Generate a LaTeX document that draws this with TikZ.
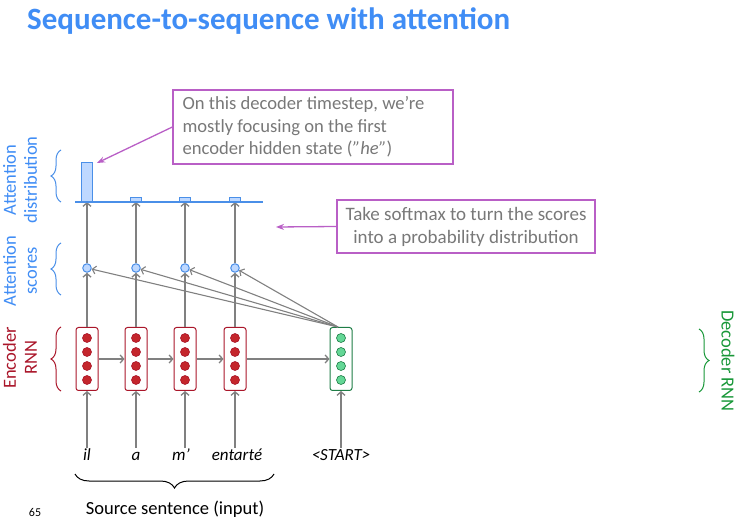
\documentclass[tikz,border=0pt]{standalone}
\usepackage{fontspec}
\setmainfont{Carlito}
\usetikzlibrary{arrows.meta,decorations.pathreplacing}
\definecolor{titleblue}{RGB}{64,141,245}
\definecolor{encred}{RGB}{170,22,42}
\definecolor{encfill}{RGB}{196,38,44}
\definecolor{decgreen}{RGB}{30,125,70}
\definecolor{decfill}{RGB}{100,215,150}
\definecolor{scoreblue}{RGB}{74,143,232}
\definecolor{scorefill}{RGB}{190,216,255}
\definecolor{notepurple}{RGB}{185,95,198}
\definecolor{notegray}{RGB}{120,120,120}
\definecolor{arrowgray}{RGB}{128,128,128}
\tikzset{
  conn/.style={draw=arrowgray, line width=1.3pt, -{Straight Barb[length=3.5pt,width=8pt]}},
  fan/.style={conn, line width=1.1pt},
  encbox/.style={draw=encred, fill=white, line width=1pt, rounded corners=2.5pt,
    minimum width=22pt, minimum height=63pt, inner sep=0pt},
  decbox/.style={encbox, draw=decgreen},
  enccirc/.style={circle, draw=encred, fill=encfill, line width=0.6pt, minimum size=9pt, inner sep=0pt},
  deccirc/.style={enccirc, draw=decgreen, fill=decfill},
  score/.style={circle, draw=scoreblue, fill=scorefill, line width=1pt, minimum size=8.5pt, inner sep=0pt},
  bar/.style={draw=scoreblue, fill=scorefill, line width=1pt, minimum width=11pt, inner sep=0pt, anchor=south},
  word/.style={font=\fontsize{17}{20}\selectfont\itshape, text height=12pt, text depth=4pt, inner sep=0pt},
  note/.style={draw=notepurple, line width=1.3pt, text=notegray},
  pointer/.style={draw=notepurple, line width=1.3pt, -{Stealth[length=8pt,width=6pt]}},
  side/.style={align=center, font=\fontsize{18.5}{21}\selectfont},
  sidebrace/.style={decorate, decoration={brace, amplitude=10pt}, line width=1pt},
}
\begin{document}
\begin{tikzpicture}[x=1pt,y=-1pt]
  \useasboundingbox (0,0) rectangle (742,529);

  \node[anchor=base west, inner sep=0pt, text=titleblue, font=\fontsize{31}{36}\selectfont\bfseries]
    (title) at (27,30) {Sequence-to-sequence with attention};

  % encoder, scores and attention bars
  \foreach \i/\x/\wx/\w in {1/87/87/il, 2/136/136/a, 3/185/181/m’, 4/235/237/entarté} {
    \node[encbox] (e\i) at (\x,359) {};
    \foreach \j/\dy in {1/-21, 2/-7, 3/7, 4/21}
      \node[enccirc] (e\i-\j) at (\x,{359+\dy}) {};
    \node[word] (w\i) at (\wx,456) {\w};
    \node[score] (s\i) at (\x,268) {};
    \coordinate (b\i) at (\x,202);
    \draw[conn] (e\i.south |- w\i.north) -- (e\i.south);
    \draw[conn] (e\i.north) -- (s\i.south);
    \draw[conn] (s\i.north) -- (b\i);
  }

  % decoder
  \node[decbox] (d) at (341,359) {};
  \foreach \j/\dy in {1/-21, 2/-7, 3/7, 4/21}
    \node[deccirc] (d-\j) at (341,{359+\dy}) {};
  \node[word] (w5) at (341,456) {<START>};
  \draw[conn] (w5.north) -- (d.south);

  \draw[conn] (e1) -- (e2);
  \draw[conn] (e2) -- (e3);
  \draw[conn] (e3) -- (e4);
  \draw[conn] (e4) -- (d);
  \foreach \i in {1,...,4}
    \draw[fan] ([xshift=-3pt]d.north) -- (s\i);

  \draw[draw=scoreblue, line width=1.3pt] (75,202) -- (263,202);
  \node[bar, minimum height=39pt] (a1) at (b1) {};
  \foreach \i in {2,3,4}
    \node[bar, minimum height=4pt] (a\i) at (b\i) {};

  % callouts
  \node[note, minimum width=280pt, minimum height=74pt] (c1) at (313,127) {};
  \node[anchor=west, align=left, inner sep=0pt, text=notegray, font=\fontsize{18.6}{22.5}\selectfont]
    (c1text) at ([xshift=10pt]c1.west)
    {On this decoder timestep, we’re\\mostly focusing on the first\\encoder hidden state (\textit{”he”})};
  \draw[pointer] (c1.west) -- ([xshift=4pt,yshift=-1pt]a1.north east);

  \node[note, font=\fontsize{19}{23}\selectfont, align=center, minimum width=258pt,
    minimum height=53pt] (c2) at (466,226.5)
    {Take softmax to turn the scores\\into a probability distribution};
  \coordinate (softmaxtip) at (276,227);
  \draw[pointer] (c2.west) -- (softmaxtip);

  % side labels
  \node[side, text=titleblue, rotate=90] (lbldist) at (20,180) {Attention\\distribution};
  \draw[sidebrace, scoreblue] (61,202) -- (61,150);
  \node[side, text=titleblue, rotate=90] (lblscores) at (20,271) {Attention\\scores};
  \draw[sidebrace, scoreblue] (61,295) -- (61,243);
  \node[side, text=encred, rotate=90] (lblenc) at (20,358) {Encoder\\RNN};
  \draw[sidebrace, encred] (61,391) -- (61,327);
  \node[side, text=decgreen!80!green, rotate=-90] (lbldec) at (728,361) {Decoder RNN};
  \draw[sidebrace, decgreen!80!green] (699,329) -- (699,392);

  % source sentence
  \draw[sidebrace, decoration={brace, amplitude=14pt}] (274,474) -- (75,474);
  \node[side] (src) at (175,509) {Source sentence (input)};
  \node[font=\fontsize{12}{14}\selectfont] (pagenum) at (35,512) {65};
\end{tikzpicture}
\end{document}
